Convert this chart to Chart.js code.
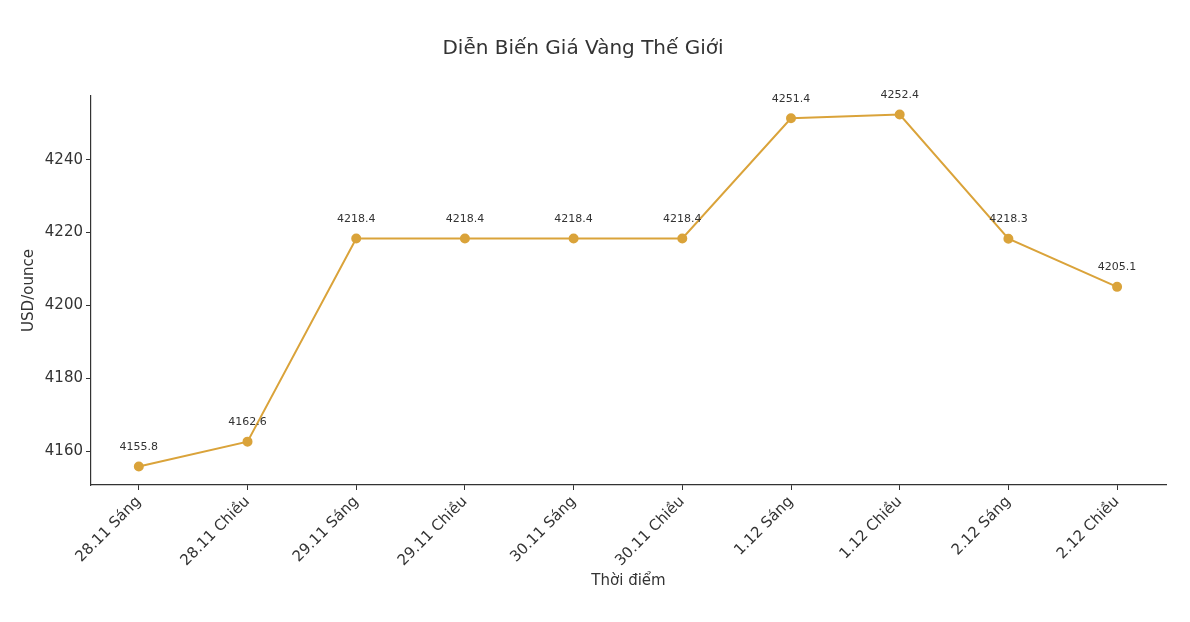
<!DOCTYPE html>
<html><head><meta charset="utf-8">
<script src="https://cdn.jsdelivr.net/npm/chart.js@4"></script>
<style>html,body{margin:0;padding:0;background:#fff}#w{width:1190px;height:622px}</style>
</head><body><div id="w"><canvas id="c"></canvas></div>
<script>
const categories=["28.11 Sáng","28.11 Chiều","29.11 Sáng","29.11 Chiều","30.11 Sáng","30.11 Chiều","1.12 Sáng","1.12 Chiều","2.12 Sáng","2.12 Chiều"];
const prices=[4155.8,4162.6,4218.4,4218.4,4218.4,4218.4,4251.4,4252.4,4218.3,4205.1];
const yTicks=[4160,4180,4200,4220,4240];
const color='#DAA33A';
const font='"DejaVu Sans", sans-serif';
const labelPlugin={id:'lbl',afterDatasetsDraw(ch){const ctx=ch.ctx;const m=ch.getDatasetMeta(0);ctx.save();ctx.font='11px '+font;ctx.fillStyle='#333';ctx.textAlign='center';ctx.textBaseline='bottom';
m.data.forEach((p,i)=>{ctx.fillText(prices[i].toFixed(1),p.x,p.y-14);});ctx.restore();}};
new Chart(document.getElementById('c'),{type:'line',
data:{datasets:[{data:prices.map((v,i)=>({x:i,y:v})),borderColor:color,backgroundColor:color,borderWidth:2,pointRadius:4,pointHoverRadius:4,tension:0}]},
options:{responsive:true,maintainAspectRatio:false,animation:false,
layout:{padding:{left:0,right:24,top:0,bottom:28}},
plugins:{legend:{display:false},tooltip:{enabled:false},
title:{display:true,text:'Diễn Biến Giá Vàng Thế Giới',color:'#333',font:{family:font,size:20,weight:'normal'},padding:{top:37,bottom:35}}},
scales:{
x:{type:'linear',min:-0.44,max:9.45,grid:{display:true,drawOnChartArea:false,drawTicks:true,tickColor:'#333',tickLength:5},border:{color:'#333',width:1.2},
afterBuildTicks:s=>{s.ticks=categories.map((c,i)=>({value:i}));},
afterFit:s=>{s.height=109;},
ticks:{autoSkip:false,minRotation:45,maxRotation:45,color:'#333',font:{family:font,size:15},callback:v=>categories[v]},
title:{display:true,text:'Thời điểm',color:'#333',font:{family:font,size:15},padding:{top:0}}},
y:{min:4150.7,max:4257.5,grid:{display:true,drawOnChartArea:false,drawTicks:true,tickColor:'#333',tickLength:5},border:{color:'#333',width:1.2},
afterBuildTicks:s=>{s.ticks=yTicks.map(v=>({value:v}));},
afterFit:s=>{s.width=91;},
ticks:{color:'#333',font:{family:font,size:15},callback:v=>String(v)},
title:{display:true,text:'USD/ounce',color:'#333',font:{family:font,size:15},padding:{top:20,bottom:4}}}
}},plugins:[labelPlugin]});
</script></body></html>
